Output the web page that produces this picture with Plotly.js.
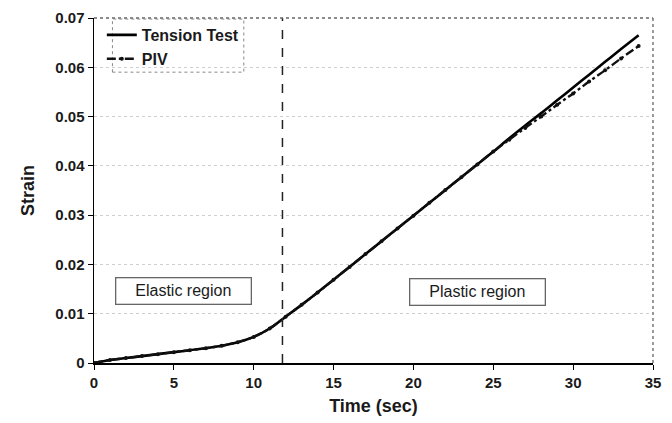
<!DOCTYPE html>
<html><head><meta charset="utf-8">
<script src="https://cdn.plot.ly/plotly-3.0.1.min.js"></script>
<style>html,body{margin:0;padding:0;background:#fff}#chart{width:672px;height:423px}</style>
</head><body><div id="chart"></div>
<script>
const timeSec = [0,1,2,3,4,5,6,7,8,9,10,11,12,13,14,15,16,17,18,19,20,21,22,23,24,25,26,27,28,29,30,31,32,33,34.1];
const tensionStrain = [0,0.0006,0.0010,0.0014,0.0018,0.0022,0.0026,0.0030,0.0035,0.0042,0.0053,0.0070,0.0094,0.0118,0.0143,0.0169,0.0195,0.0221,0.0247,0.0273,0.0299,0.0325,0.0351,0.0377,0.0403,0.0429,0.0456,0.0482,0.0507,0.0533,0.0559,0.0585,0.0611,0.0637,0.0665];
const pivStrain = [0,0.0006,0.0010,0.0014,0.0018,0.0022,0.0026,0.0030,0.0035,0.0042,0.0053,0.0070,0.0094,0.0118,0.0143,0.0169,0.0195,0.0221,0.0247,0.0273,0.0299,0.0325,0.0351,0.0377,0.0403,0.0429,0.0453,0.0477,0.0500,0.0524,0.0547,0.0571,0.0594,0.0618,0.0643];
const xTicks = [0,5,10,15,20,25,30,35];
const yTicks = [0,0.01,0.02,0.03,0.04,0.05,0.06,0.07];
const yTickText = ['0','0.01','0.02','0.03','0.04','0.05','0.06','0.07'];
const boundaryTime = 11.8;
const regionLabels = ['Elastic region','Plastic region'];
const regionX = [5.6, 24.0];
const regionY = [0.0147, 0.0145];

const traces = [
  {x: timeSec, y: tensionStrain, name: 'Tension Test', type: 'scatter', mode: 'lines',
   line: {color: '#000', width: 2.6, shape: 'spline'}},
  {x: timeSec, y: pivStrain, name: 'PIV', type: 'scatter', mode: 'lines+markers',
   line: {color: '#111', width: 2.4, dash: 'dashdot', shape: 'spline'}, marker: {size: 4, color: '#111'}}
];

const font = {family: 'Liberation Sans, Arial, sans-serif', color: '#1a1a1a'};
const f = (size, weight) => Object.assign({size: size, weight: weight || 'normal'}, font);
const layout = {
  width: 672, height: 423,
  margin: {l: 94, r: 19, t: 18, b: 60},
  paper_bgcolor: '#fff', plot_bgcolor: '#fff',
  font: f(14),
  showlegend: true,
  legend: {x: 0.014, y: 1.0, xanchor: 'left', yanchor: 'top', bgcolor: 'rgba(0,0,0,0)',
           font: f(16, 'bold'), tracegroupgap: 0, itemwidth: 30},
  xaxis: {range: [0, 35], tickvals: xTicks, ticks: 'outside', ticklen: 5, tickcolor: '#000',
          showline: true, linecolor: '#000', linewidth: 1.5, showgrid: false, zeroline: false,
          tickfont: f(15, 'bold'),
          title: {text: 'Time (sec)', font: f(18, 'bold'), standoff: 10}},
  yaxis: {range: [0, 0.07], tickvals: yTicks, ticktext: yTickText, ticks: 'outside', ticklen: 5, tickcolor: '#000',
          showline: true, linecolor: '#000', linewidth: 1.5, showgrid: true, gridcolor: '#cfcfcf',
          griddash: 'dot', gridwidth: 1, zeroline: false,
          tickfont: f(15, 'bold'),
          title: {text: 'Strain', font: f(18, 'bold'), standoff: 16}},
  shapes: [
    {type: 'line', xref: 'x', yref: 'y', x0: boundaryTime, x1: boundaryTime, y0: 0, y1: 0.07,
     line: {color: '#222', width: 1.5, dash: 'dash'}},
    {type: 'line', xref: 'paper', yref: 'paper', x0: 0, x1: 1, y0: 1, y1: 1,
     line: {color: '#666', width: 1.3, dash: 'dot'}},
    {type: 'line', xref: 'paper', yref: 'paper', x0: 1, x1: 1, y0: 0, y1: 1,
     line: {color: '#666', width: 1.3, dash: 'dot'}},
    {type: 'rect', xref: 'paper', yref: 'paper', x0: 0.033, x1: 0.268, y0: 0.843, y1: 0.997,
     line: {color: '#888', width: 1, dash: 'dot'}}
  ],
  annotations: regionLabels.map((t, i) => ({
    x: regionX[i], y: regionY[i], xref: 'x', yref: 'y', text: t, showarrow: false,
    font: f(16), bordercolor: '#666', borderwidth: 1.3, borderpad: 4,
    bgcolor: '#fff', width: 126
  }))
};
Plotly.newPlot('chart', traces, layout, {displayModeBar: false, staticPlot: true});
</script></body></html>
